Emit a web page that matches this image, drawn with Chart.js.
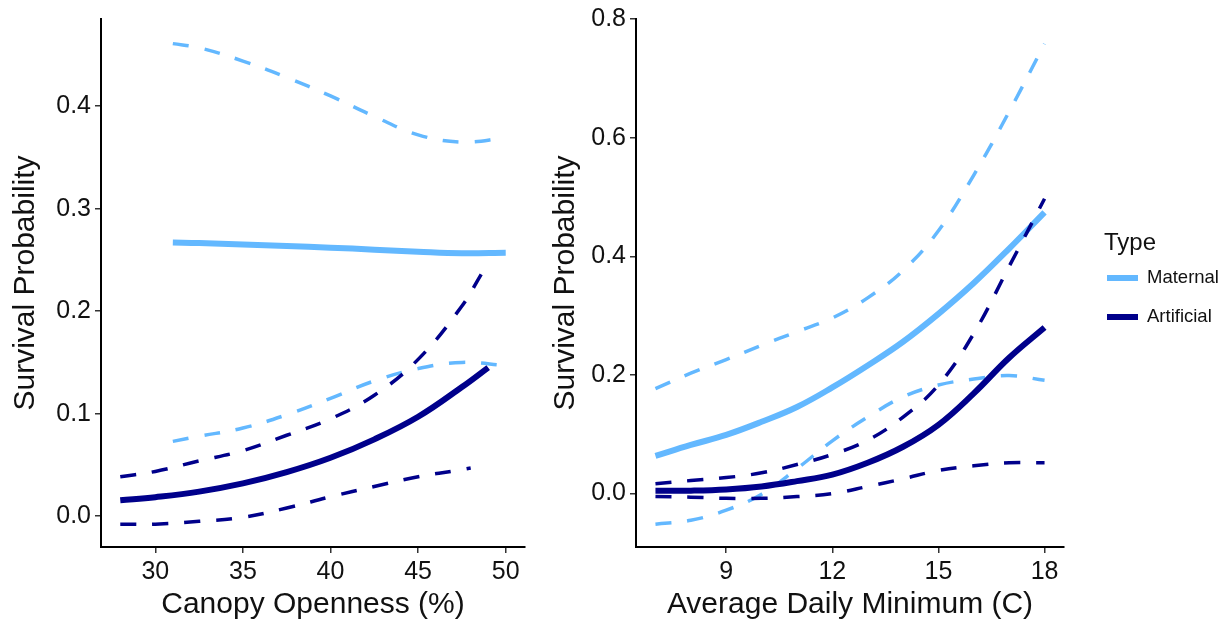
<!DOCTYPE html>
<html>
<head>
<meta charset="utf-8">
<script src="https://cdn.jsdelivr.net/npm/chart.js@4.4.1/dist/chart.umd.min.js"></script>
<style>
  html, body { margin: 0; padding: 0; background: #fff; }
  #wrap { position: relative; width: 1228px; height: 623px; }
  #wrap canvas { position: absolute; top: 0; }
  #canopyChart { left: 0; }
  #tempChart { left: 540px; }
</style>
</head>
<body>
<div id="wrap">
  <canvas id="canopyChart" width="540" height="623"></canvas>
  <canvas id="tempChart" width="688" height="623"></canvas>
</div>
<script>
// ---- data: canopy openness panel ----
const matCanopyX = [31, 32.5, 35, 37.5, 40, 42.5, 45, 47.5, 50];
const matCanopyFit = [0.267, 0.2665, 0.265, 0.2635, 0.262, 0.260, 0.258, 0.2565, 0.257];
const matCanopyUpper = [0.461, 0.457, 0.444, 0.428, 0.410, 0.390, 0.372, 0.365, 0.369];
const matCanopyLower = [0.073, 0.078, 0.086, 0.099, 0.115, 0.132, 0.144, 0.150, 0.147];

const artCanopyX = [28, 30, 32.5, 35, 37.5, 40, 42.5, 45, 47.5, 49];
const artCanopyFit = [0.0155, 0.0186, 0.024, 0.032, 0.043, 0.057, 0.075, 0.097, 0.126, 0.145];
const artCanopyUpperX = [28, 30, 32.5, 35, 37.5, 40, 42.5, 45, 47.5, 48.6];
const artCanopyUpper = [0.0386, 0.0437, 0.054, 0.064, 0.079, 0.095, 0.118, 0.153, 0.205, 0.236];
const artCanopyLowerX = [28, 30, 32.5, 35, 37.5, 40, 42.5, 45, 47, 48];
const artCanopyLower = [-0.0077, -0.0077, -0.005, -0.001, 0.008, 0.019, 0.029, 0.0386, 0.044, 0.047];

const canopyXTicks = [30, 35, 40, 45, 50];
const canopyYTicks = [0, 0.1, 0.2, 0.3, 0.4];

// ---- data: temperature panel ----
const tempX = [7, 8, 9, 10, 11, 12, 13, 14, 15, 16, 17, 18];
const matTempFit = [0.0635, 0.082, 0.099, 0.121, 0.146, 0.179, 0.216, 0.256, 0.303, 0.355, 0.413, 0.474];
const matTempUpper = [0.177, 0.203, 0.226, 0.25, 0.273, 0.296, 0.33, 0.376, 0.443, 0.537, 0.644, 0.758];
const matTempLower = [-0.0515, -0.045, -0.028, -0.001, 0.042, 0.089, 0.129, 0.163, 0.183, 0.193, 0.199, 0.191];
const artTempFit = [0.0047, 0.005, 0.007, 0.012, 0.021, 0.032, 0.052, 0.079, 0.116, 0.169, 0.229, 0.28];
const artTempUpper = [0.0167, 0.022, 0.027, 0.035, 0.049, 0.066, 0.09, 0.129, 0.183, 0.27, 0.383, 0.497];
const artTempLower = [-0.0047, -0.006, -0.008, -0.008, -0.005, 0.0, 0.012, 0.025, 0.039, 0.047, 0.052, 0.052];

const tempXTicks = [9, 12, 15, 18];
const tempYTicks = [0, 0.2, 0.4, 0.6, 0.8];

const typeNames = ["Maternal", "Artificial"];
const typeColors = ["#63B8FF", "#00008B"];

const FONT = "'Liberation Sans', Arial, sans-serif";

function pts(xs, ys) {
  return xs.map((x, i) => ({ x: x, y: ys[i] }));
}

function fitLine(xs, ys, color) {
  return {
    data: pts(xs, ys), borderColor: color, borderWidth: 6,
    pointRadius: 0, tension: 0.4, fill: false
  };
}

function ciLine(xs, ys, color) {
  return {
    data: pts(xs, ys), borderColor: color, borderWidth: 3.5, borderDash: [16, 16],
    borderCapStyle: "butt", pointRadius: 0, tension: 0.4, fill: false
  };
}

function axis(opts) {
  // opts: min, max, ticks, title, fixed size, horizontal?, tick formatter
  return {
    type: "linear",
    min: opts.min,
    max: opts.max,
    afterBuildTicks: (s) => { s.ticks = opts.ticks.map(v => ({ value: v })); },
    afterFit: (s) => {
      if (opts.horizontal) s.height = opts.size; else s.width = opts.size;
    },
    border: { display: true, color: "#000", width: 2 },
    grid: { drawOnChartArea: false, drawTicks: true, tickLength: 6, color: "#333", lineWidth: 1.5 },
    ticks: {
      color: "#111", padding: opts.horizontal ? 4 : 4,
      font: { family: FONT, size: 25 },
      maxRotation: 0, autoSkip: false,
      callback: opts.fmt
    },
    title: {
      display: true, text: opts.title, color: "#111",
      font: { family: FONT, size: 30 },
      padding: opts.horizontal ? { top: 0, bottom: 0 } : { top: 8, bottom: 0 }
    }
  };
}

// legend for the "Type" groups, drawn to the right of the second panel
const typeLegend = {
  id: "typeLegend",
  afterDraw(chart) {
    const ctx = chart.ctx;
    ctx.save();
    ctx.fillStyle = "#111";
    ctx.textBaseline = "middle";
    ctx.textAlign = "left";
    ctx.font = "24px " + FONT;
    ctx.fillText("Type", 564, 243);
    ctx.font = "18.5px " + FONT;
    typeNames.forEach((name, i) => {
      const y = 278 + i * 39;
      ctx.strokeStyle = typeColors[i];
      ctx.lineWidth = 6;
      ctx.beginPath();
      ctx.moveTo(567, y);
      ctx.lineTo(598, y);
      ctx.stroke();
      ctx.fillStyle = "#111";
      ctx.fillText(name, 607, y);
    });
    ctx.restore();
  }
};

const baseOptions = {
  responsive: false,
  animation: false,
  devicePixelRatio: 1,
  plugins: { legend: { display: false }, tooltip: { enabled: false } }
};

new Chart(document.getElementById("canopyChart"), {
  type: "line",
  data: {
    datasets: [
      fitLine(artCanopyX, artCanopyFit, typeColors[1]),
      ciLine(artCanopyUpperX, artCanopyUpper, typeColors[1]),
      ciLine(artCanopyLowerX, artCanopyLower, typeColors[1]),
      fitLine(matCanopyX, matCanopyFit, typeColors[0]),
      ciLine(matCanopyX, matCanopyUpper, typeColors[0]),
      ciLine(matCanopyX, matCanopyLower, typeColors[0])
    ]
  },
  options: Object.assign({}, baseOptions, {
    layout: { padding: { top: 17, right: 15, bottom: 0, left: 0 } },
    scales: {
      x: axis({ min: 26.9, max: 51.1, ticks: canopyXTicks, title: "Canopy Openness (%)",
                size: 76, horizontal: true, fmt: v => String(v) }),
      y: axis({ min: -0.030, max: 0.485, ticks: canopyYTicks, title: "Survival Probability",
                size: 101, horizontal: false, fmt: v => v.toFixed(1) })
    }
  })
});

new Chart(document.getElementById("tempChart"), {
  type: "line",
  data: {
    datasets: [
      fitLine(tempX, artTempFit, typeColors[1]),
      ciLine(tempX, artTempUpper, typeColors[1]),
      ciLine(tempX, artTempLower, typeColors[1]),
      fitLine(tempX, matTempFit, typeColors[0]),
      ciLine(tempX, matTempUpper, typeColors[0]),
      ciLine(tempX, matTempLower, typeColors[0])
    ]
  },
  options: Object.assign({}, baseOptions, {
    layout: { padding: { top: 19, right: 164, bottom: 0, left: 0 } },
    scales: {
      x: axis({ min: 6.45, max: 18.55, ticks: tempXTicks, title: "Average Daily Minimum (C)",
                size: 76, horizontal: true, fmt: v => String(v) }),
      y: axis({ min: -0.09, max: 0.8, ticks: tempYTicks, title: "Survival Probability",
                size: 96, horizontal: false, fmt: v => v.toFixed(1) })
    }
  }),
  plugins: [typeLegend]
});
</script>
</body>
</html>
